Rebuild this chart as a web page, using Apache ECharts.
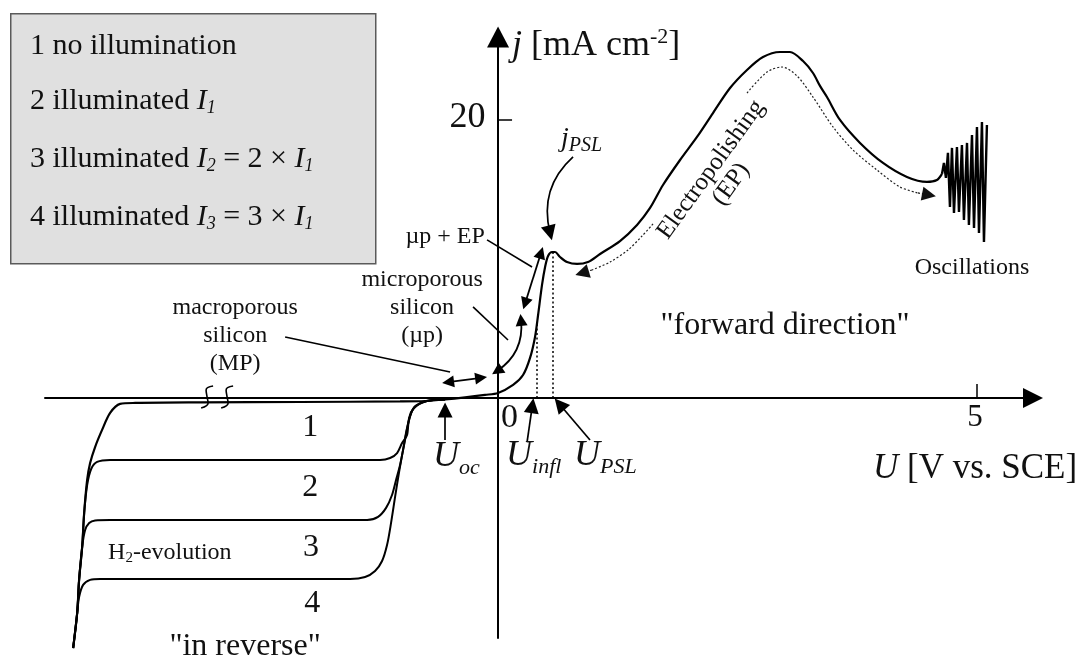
<!DOCTYPE html>
<html>
<head>
<meta charset="utf-8">
<script src="https://cdn.jsdelivr.net/npm/echarts@6/dist/echarts.min.js"></script>
<style>
  html, body { margin: 0; background: #fff; }
  #chart { width: 1092px; height: 662px; }
</style>
</head>
<body>
<div id="chart"></div>
<script>
// U [V vs. SCE] / j [mA cm-2]
const curve1 = [[-4.436,-17.99],[-4.394,-15.47],[-4.374,-13.09],[-4.342,-10.72],[-4.321,-8.27],[-4.290,-5.90],[-4.259,-4.68],[-4.207,-3.53],[-4.134,-2.30],[-4.050,-1.08],[-3.946,-0.43],[-3.789,-0.36],[-3.111,-0.32],[-2.067,-0.29],[-1.023,-0.25],[-0.762,-0.22],[-0.553,-0.11],[-0.344,0.04],[-0.136,0.22],[0,0.36],[0.157,0.94],[0.261,1.65],[0.334,2.88],[0.386,4.39],[0.418,5.97],[0.459,8.13],[0.491,9.42],[0.522,10.22],[0.564,10.50],[0.595,10.50],[0.647,10.14],[0.720,9.78],[0.825,9.64],[0.939,9.78],[1.065,10.36],[1.273,11.29],[1.451,12.45],[1.587,13.67],[1.722,15.32],[1.900,17.12],[2.077,18.78],[2.244,20.50],[2.422,22.30],[2.599,23.60],[2.766,24.53],[2.944,24.89],[3.048,24.89],[3.184,24.24],[3.288,23.38],[3.361,22.45],[3.434,21.65],[3.570,20.00],[3.779,18.35],[4.019,16.91],[4.269,15.90],[4.478,15.54],[4.582,15.68],[4.635,16.12]];
const curve2 = [[-4.436,-17.99],[-4.394,-15.47],[-4.374,-13.09],[-4.342,-10.72],[-4.321,-8.27],[-4.290,-6.26],[-4.248,-5.11],[-4.186,-4.60],[-4.050,-4.46],[-1.232,-4.46],[-1.127,-4.32],[-1.054,-3.96],[-1.002,-3.24],[-0.950,-2.66],[-0.929,-1.44],[-0.877,-0.68],[-0.793,-0.32],[-0.679,-0.14],[-0.553,-0.11]];
const curve3 = [[-4.436,-17.99],[-4.394,-15.47],[-4.374,-13.09],[-4.342,-10.72],[-4.311,-9.50],[-4.269,-8.99],[-4.207,-8.81],[-4.050,-8.78],[-1.367,-8.78],[-1.253,-8.56],[-1.169,-7.91],[-1.107,-6.98],[-1.065,-5.90],[-1.023,-4.82],[-0.981,-3.38],[-0.939,-1.87],[-0.887,-0.79],[-0.793,-0.32],[-0.679,-0.14],[-0.553,-0.11]];
const curve4 = [[-4.436,-17.99],[-4.394,-15.47],[-4.374,-14.32],[-4.332,-13.45],[-4.259,-13.09],[-4.154,-13.02],[-1.545,-13.02],[-1.388,-12.88],[-1.284,-12.45],[-1.211,-11.73],[-1.159,-10.58],[-1.117,-8.99],[-1.075,-7.12],[-1.033,-5.32],[-0.992,-3.74],[-0.950,-2.16],[-0.898,-0.94],[-0.814,-0.40],[-0.679,-0.14],[-0.553,-0.11]];
const oscillations = [[4.635,16.12],[4.655,16.91],[4.676,15.83],[4.697,17.63],[4.718,13.74],[4.739,17.99],[4.760,13.31],[4.791,18.06],[4.812,13.38],[4.843,18.20],[4.864,12.81],[4.896,18.35],[4.916,12.45],[4.948,18.92],[4.969,12.23],[5.000,19.50],[5.021,11.87],[5.052,19.86],[5.073,11.22],[5.104,19.64]];

const xTickValues = [5];
const xLabelValues = [0, 5];
const yTickValues = [20];

const legendLines = [
  '1 no illumination',
  '2 illuminated {i|I}{s|1}',
  '3 illuminated {i|I}{s|2} = 2 × {i|I}{s|1}',
  '4 illuminated {i|I}{s|3} = 3 × {i|I}{s|1}'
];

// annotation geometry (data units)
const epLower = [[1.618,12.52],[1.503,11.65],[1.357,10.65],[1.169,9.78],[0.981,9.21]];
const epUpper = [[2.599,21.94],[2.808,23.45],[2.964,23.81],[3.121,23.17],[3.288,21.65],[3.497,19.50],[3.706,17.84],[3.956,16.40],[4.196,15.18],[4.384,14.75]];
const breakMarks = [
  [[-2.975,0.86],[-3.048,0.58],[-3.038,0.07],[-3.027,-0.36],[-3.100,-0.72]],
  [[-2.766,0.86],[-2.839,0.58],[-2.829,0.07],[-2.818,-0.36],[-2.891,-0.72]]
];
const guideLines = [[[0.407,0],[0.407,5.5]], [[0.574,0],[0.574,10.5]]];
const singleArrows = [
  { c: [[-0.553,-3.02],[-0.553,-0.86]], k: 0 },
  { c: [[0.303,-3.17],[0.358,-0.56]], k: 0 },
  { c: [[0.960,-3.02],[0.642,-0.45]], k: 0 },
  { c: [[0.783,17.34],[0.543,11.87]], k: -0.3 }
];
const epHeads = [[[0.981,9.21],[0.877,8.99]], [[4.384,14.75],[4.499,14.60]]];
const doubleArrows = [
  { c: [[-0.522,1.14],[-0.177,1.45]], k: 0 },
  { c: [[-0.010,1.94],[0.240,5.61]], k: -0.3 },
  { c: [[0.282,6.79],[0.449,10.45]], k: 0 }
];
const pointers = [
  [[-2.223,4.39],[-0.501,1.87]],
  [[-0.261,6.55],[0.104,4.17]],
  [[-0.115,11.37],[0.355,9.42]]
];

const FONT = 'Liberation Serif';
const INK = '#111';

// italic main letter with a lowered italic subscript
const subRich = (main, mainLh, sub, subLh) => ({
  u: { fontFamily: FONT, fontStyle: 'italic', fontSize: main, lineHeight: mainLh, verticalAlign: 'middle', color: INK },
  sub: { fontFamily: FONT, fontStyle: 'italic', fontSize: sub, lineHeight: subLh, verticalAlign: 'bottom', color: INK }
});

// tick labels sit beside the crossing axes
const tickNotes = [
  ...xLabelValues.map(v => ({ at: [v + (v === 0 ? 0.12 : -0.02), -1.42], text: String(v), size: v === 0 ? 34 : 31 })),
  ...yTickValues.map(v => ({ at: [-0.13, v + 0.15], text: String(v), size: 36, align: 'right' }))
];

const notes = [
  { at: [0.146, 25.33], text: '{i|j} [mA cm{sup|-2}]', size: 36, align: 'left', lineHeight: 40,
    rich: { i: { fontFamily: FONT, fontStyle: 'italic', fontSize: 36, lineHeight: 40, color: INK },
            sup: { fontFamily: FONT, fontSize: 22, lineHeight: 22, verticalAlign: 'top', color: INK } } },
  { at: [3.914, -5.11], text: '{i|U} [V vs. SCE]', size: 35, align: 'left', lineHeight: 38,
    rich: { i: { fontFamily: FONT, fontStyle: 'italic', fontSize: 35, lineHeight: 38, color: INK } } },
  { at: [4.948, 9.35], text: 'Oscillations', size: 24 },
  { at: [2.996, 5.18], text: '"forward direction"', size: 32 },
  { at: [-2.641, -17.91], text: '"in reverse"', size: 32 },
  { at: [-1.962, -2.12], text: '1', size: 32 },
  { at: [-1.962, -6.44], text: '2', size: 32 },
  { at: [-1.952, -10.76], text: '3', size: 32 },
  { at: [-1.941, -14.78], text: '4', size: 32 },
  { at: [-4.071, -11.15], text: 'H{s|2}-evolution', size: 24, align: 'left', lineHeight: 26,
    rich: { s: { fontFamily: FONT, fontSize: 15, lineHeight: 6, verticalAlign: 'bottom', color: INK } } },
  { at: [-2.745, 4.46], text: 'macroporous\nsilicon\n(MP)', size: 24, lineHeight: 28 },
  { at: [-0.793, 6.47], text: 'microporous\nsilicon\n(µp)', size: 24, lineHeight: 28 },
  { at: [-0.553, 11.58], text: 'µp + EP', size: 24 },
  { at: [0.658, 18.63], text: '{u|j}{sub|PSL}', size: 28, align: 'left', rich: subRich(28, 34, 20, 9) },
  { at: [2.328, 15.90], text: 'Electropolishing\n(EP)', size: 25, lineHeight: 25, rotate: 54 },
  { at: [-0.678, -4.24], text: '{u|U}{sub|oc}', size: 36, align: 'left', rich: subRich(36, 44, 22, 8) },
  { at: [0.084, -4.17], text: '{u|U}{sub|infl}', size: 36, align: 'left', rich: subRich(36, 44, 22, 8) },
  { at: [0.793, -4.17], text: '{u|U}{sub|PSL}', size: 36, align: 'left', rich: subRich(36, 44, 22, 8) },
  ...tickNotes
];

const lineSeries = (data, width, extra) => Object.assign({
  type: 'line', data: data, smooth: 0.3, showSymbol: false, symbol: 'none', clip: false,
  silent: true, lineStyle: { color: '#000', width: width, opacity: 1 }, z: 3
}, extra || {});

const linesSeries = (data, symbol, size, style) => ({
  type: 'lines', coordinateSystem: 'cartesian2d', silent: true, z: 4,
  symbol: symbol, symbolSize: size,
  lineStyle: Object.assign({ color: '#000', opacity: 1, curveness: 0 }, style),
  data: data
});

const series = [
  lineSeries(curve1, 2.2),
  lineSeries(curve2, 2),
  lineSeries(curve3, 2),
  lineSeries(curve4, 2),
  lineSeries(oscillations, 2.4, { smooth: false }),
  lineSeries(epLower, 1.2, { lineStyle: { color: '#222', width: 1.2, type: [2, 2], opacity: 1 } }),
  lineSeries(epUpper, 1.2, { lineStyle: { color: '#222', width: 1.2, type: [2, 2], opacity: 1 } }),
  ...breakMarks.map(b => lineSeries(b, 1.6, { smooth: 0.5 })),
  linesSeries(guideLines.map(c => ({ coords: c })), ['none', 'none'], 1, { width: 1.5, type: [2, 2.5] }),
  linesSeries(pointers.map(c => ({ coords: c })), ['none', 'none'], 1, { width: 1.6 }),
  linesSeries(singleArrows.map(a => ({ coords: a.c, lineStyle: { curveness: a.k } })), ['none', 'triangle'], 15, { width: 1.7 }),
  linesSeries(epHeads.map(c => ({ coords: c })), ['none', 'triangle'], 14, { width: 1.2, type: [2, 2], color: '#111' }),
  linesSeries(doubleArrows.map(a => ({ coords: a.c, lineStyle: { curveness: a.k } })), ['triangle', 'triangle'], 12, { width: 1.8 }),
  {
    type: 'scatter', silent: true, clip: false, symbolSize: 1, z: 6,
    itemStyle: { color: 'rgba(0,0,0,0)', opacity: 1 },
    data: notes.map(n => ({
      value: n.at,
      label: {
        show: true, position: 'inside', formatter: n.text,
        align: n.align || 'center', verticalAlign: 'middle',
        fontFamily: FONT, fontSize: n.size, color: INK, opacity: 1,
        lineHeight: n.lineHeight || n.size + 2,
        rotate: n.rotate || 0,
        rich: n.rich || {}
      }
    }))
  }
];

const legendRich = {
  i: { font: 'italic 30px Liberation Serif', lineHeight: 32 },
  s: { font: 'italic 18px Liberation Serif', lineHeight: 10, verticalAlign: 'bottom' }
};
const legendY = [46, 101, 159, 217];

const option = {
  animation: false,
  backgroundColor: '#fff',
  textStyle: { fontFamily: FONT, color: INK },
  grid: { left: 45, right: 59, top: 37, bottom: 24, outerBoundsMode: 'none' },
  xAxis: {
    type: 'value', min: -4.73, max: 5.585,
    splitLine: { show: false },
    axisLine: { onZero: true, symbol: ['none', 'triangle'], symbolSize: [20, 20],
      lineStyle: { color: '#000', width: 2 } },
    axisTick: { show: true, inside: true, length: 14, customValues: xTickValues,
      lineStyle: { color: '#000', width: 1.5 } },
    axisLabel: { show: false }
  },
  yAxis: {
    type: 'value', min: -17.27, max: 25.97,
    splitLine: { show: false },
    axisLine: { onZero: true, symbol: ['none', 'triangle'], symbolSize: [22, 21],
      lineStyle: { color: '#000', width: 2 } },
    axisTick: { show: true, inside: true, length: 14, customValues: yTickValues,
      lineStyle: { color: '#000', width: 1.5 } },
    axisLabel: { show: false }
  },
  graphic: [
    { type: 'rect', left: 10, top: 13, z: 1,
      shape: { width: 365, height: 250 },
      style: { fill: '#e0e0e0', stroke: '#5a5a5a', lineWidth: 1.5 } },
    ...legendLines.map((t, i) => ({
      type: 'text', x: 30, y: legendY[i], z: 2,
      style: { text: t, font: '30px Liberation Serif', fill: INK, align: 'left',
        verticalAlign: 'middle', lineHeight: 32, rich: legendRich }
    }))
  ],
  series: series
};

const chart = echarts.init(document.getElementById('chart'));
chart.setOption(option);
</script>
</body>
</html>
